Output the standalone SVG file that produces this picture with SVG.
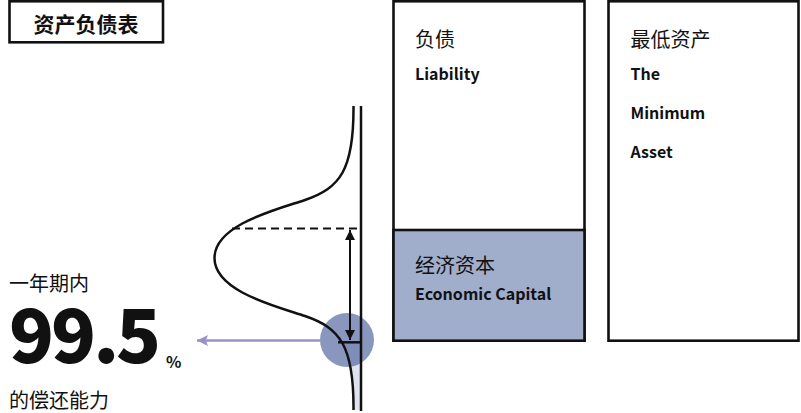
<svg xmlns="http://www.w3.org/2000/svg" width="801" height="413" viewBox="0 0 801 413">
<style>
.t{font-family:"Noto Sans CJK SC","Noto Sans",sans-serif;fill:#111}
.cj{font-size:20px;font-weight:400}
.en{font-size:16px;font-weight:700}
.box{fill:#fff;stroke:#111;stroke-width:2.6}
.ln{fill:none;stroke:#111;stroke-width:2.5}
</style>
<defs>
<marker id="ah" viewBox="0 0 10 10" refX="10" refY="5" markerWidth="13" markerHeight="10" markerUnits="userSpaceOnUse" orient="auto-start-reverse"><path d="M0,0 L10,5 L0,10 Z" fill="#111"/></marker>
<marker id="ap" viewBox="0 0 10 10" refX="10" refY="5" markerWidth="16" markerHeight="11" markerUnits="userSpaceOnUse" orient="auto"><path d="M0,0 L10,5 L0,10 L2,5 Z" fill="#9b91c6"/></marker>
<clipPath id="below"><rect x="300" y="342" width="70" height="71"/></clipPath>
</defs>
<g id="title">
<rect x="9.5" y="1.3" width="153.5" height="41" class="box"/>
<text class="t" x="86" y="32" text-anchor="middle" font-size="21" font-weight="700">资产负债表</text>
</g>
<g id="distribution">
<path d="M305,316 C340,328 354,346 353.5,410 L361,410 L361,316 Z" fill="#dfe3ee" clip-path="url(#below)"/>
<circle cx="347" cy="340" r="27" fill="#4a5f9c" fill-opacity="0.65"/>
<line x1="361" y1="106" x2="361" y2="411" class="ln"/>
<path class="ln" d="M353.5,106 C354,170 340,188 305,200 C275,210 214.5,225 214.5,258 C214.5,291 275,306 305,316 C340,328 354,346 353.5,410"/>
<line x1="232" y1="228.5" x2="361" y2="228.5" stroke="#111" stroke-width="2" stroke-dasharray="8 5"/>
<line x1="338" y1="342.3" x2="361" y2="342.3" class="ln"/>
</g>
<g id="connectors">
<line x1="350" y1="230" x2="350" y2="340" stroke="#111" stroke-width="2" marker-start="url(#ah)" marker-end="url(#ah)"/>
<line x1="320" y1="340.5" x2="197" y2="340.5" stroke="#9b91c6" stroke-width="2.5" marker-end="url(#ap)"/>
</g>
<g id="liability">
<rect x="393.5" y="1.3" width="191" height="339.4" class="box"/>
<text class="t cj" x="415" y="47">负债</text>
<text class="t en" x="415" y="80">Liability</text>
</g>
<g id="capital">
<rect x="393.5" y="230" width="191" height="110.7" fill="#a1aecb" stroke="#111" stroke-width="2.6"/>
<text class="t cj" x="415" y="273">经济资本</text>
<text class="t en" x="415" y="300">Economic Capital</text>
</g>
<g id="minimum">
<rect x="608.5" y="1.3" width="190" height="339.4" class="box"/>
<text class="t cj" x="630.5" y="47">最低资产</text>
<text class="t en" x="630.5" y="80">The</text>
<text class="t en" x="630.5" y="119">Minimum</text>
<text class="t en" x="630.5" y="158">Asset</text>
</g>
<g id="solvency">
<text class="t cj" x="9" y="291">一年期内</text>
<text class="t" x="9" y="363" font-size="74" font-weight="900" letter-spacing="-3">99.5</text>
<text class="t" x="166" y="368" font-size="16" font-weight="700">%</text>
<text class="t cj" x="9" y="408">的偿还能力</text>
</g>
</svg>
